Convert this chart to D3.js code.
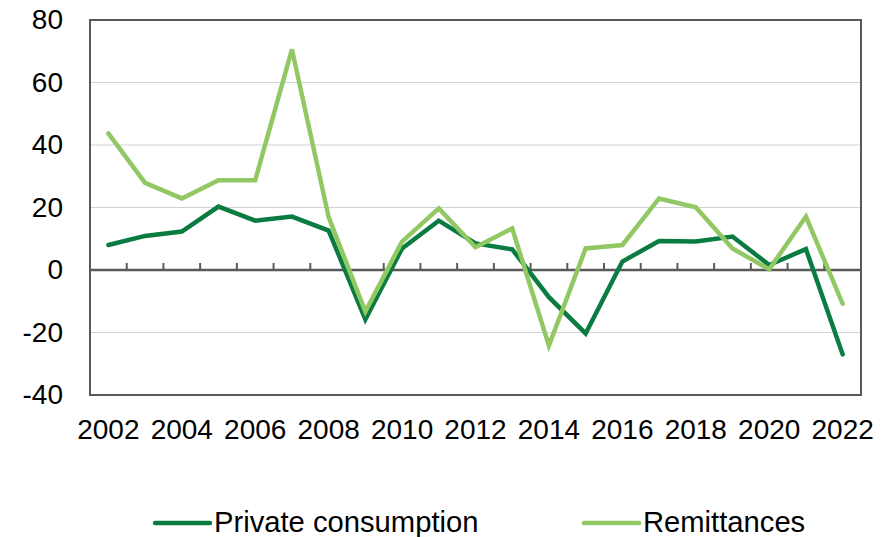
<!DOCTYPE html>
<html>
<head>
<meta charset="utf-8">
<script src="https://cdn.jsdelivr.net/npm/d3@7"></script>
<style>
  html, body { margin: 0; padding: 0; background: #fff; }
  svg { display: block; }
  text { font-family: "Liberation Sans", Arial, sans-serif; fill: #000; }
</style>
</head>
<body>
<svg id="chart" width="887" height="537"></svg>
<script>
const years = [2002,2003,2004,2005,2006,2007,2008,2009,2010,2011,2012,2013,2014,2015,2016,2017,2018,2019,2020,2021,2022];
const privateConsumption = [8.0,10.9,12.3,20.3,15.8,17.1,12.6,-15.8,6.9,15.8,8.5,6.6,-8.7,-20.3,2.7,9.3,9.1,10.7,1.6,6.7,-27.0];
const remittances = [43.7,27.9,22.9,28.7,28.7,70.6,16.9,-13.3,9.1,19.7,7.3,13.3,-24.2,6.9,8.0,22.9,20.1,6.9,0.2,17.1,-10.8];
const yTicks = [-40,-20,0,20,40,60,80];
const xLabels = [2002,2004,2006,2008,2010,2012,2014,2016,2018,2020,2022];
const seriesNames = ["Private consumption","Remittances"];
const seriesColors = ["#0a7c42","#92c864"];

const svg = d3.select("#chart");
const mLeft = 90, mRight = 861, mTop = 20, mBottom = 395;

const x = d3.scaleBand().domain(years).range([mLeft, mRight]).paddingInner(0).paddingOuter(0);
const y = d3.scaleLinear().domain([-40, 80]).range([mBottom, mTop]);
const cx = d => x(d) + x.bandwidth() / 2;

// gridlines
svg.append("g").selectAll("line")
  .data(yTicks.filter(v => v !== 0 && v !== 80 && v !== -40))
  .join("line")
  .attr("x1", mLeft).attr("x2", mRight)
  .attr("y1", d => y(d)).attr("y2", d => y(d))
  .attr("stroke", "#ccd3d1").attr("stroke-width", 1);

// y axis labels
const yAxis = d3.axisLeft(y).tickValues(yTicks).tickSize(0).tickPadding(27).tickFormat(d => String(d));
const gy = svg.append("g").attr("transform", `translate(${mLeft},0)`).call(yAxis);
gy.select(".domain").remove();
gy.selectAll("text").style("font-size", "28px").attr("fill", "#000")
  .style("font-family", "'Liberation Sans', Arial, sans-serif");

// zero axis with ticks between categories
const boundaries = years.slice(1).map(d => x(d)).concat([mRight]);
svg.append("g").selectAll("line")
  .data(boundaries)
  .join("line")
  .attr("x1", d => d).attr("x2", d => d)
  .attr("y1", y(0)).attr("y2", y(0) - 7)
  .attr("stroke", "#595959").attr("stroke-width", 2);
svg.append("line")
  .attr("x1", mLeft).attr("x2", mRight)
  .attr("y1", y(0)).attr("y2", y(0))
  .attr("stroke", "#595959").attr("stroke-width", 2.5);

// x labels at bottom
const xAxis = d3.axisBottom(x).tickValues(xLabels).tickSize(0).tickPadding(24);
const gx = svg.append("g").attr("transform", `translate(0,${mBottom})`).call(xAxis);
gx.select(".domain").remove();
gx.selectAll("text").style("font-size", "28px").attr("fill", "#000")
  .style("font-family", "'Liberation Sans', Arial, sans-serif");

// frame
svg.append("rect")
  .attr("x", mLeft).attr("y", mTop)
  .attr("width", mRight - mLeft).attr("height", mBottom - mTop)
  .attr("fill", "none").attr("stroke", "#595959").attr("stroke-width", 2);

// lines
const line = d3.line().x((d, i) => cx(years[i])).y(d => y(d));
[privateConsumption, remittances].forEach((vals, i) => {
  svg.append("path")
    .datum(vals)
    .attr("d", line)
    .attr("fill", "none")
    .attr("stroke", seriesColors[i])
    .attr("stroke-width", 4.5)
    .attr("stroke-linejoin", "miter")
    .attr("stroke-linecap", "round");
});

// legend
const legendX = [155, 584];
const legend = svg.append("g");
seriesNames.forEach((name, i) => {
  legend.append("line")
    .attr("x1", legendX[i]).attr("x2", legendX[i] + 55)
    .attr("y1", 523).attr("y2", 523)
    .attr("stroke", seriesColors[i]).attr("stroke-width", 4.5)
    .attr("stroke-linecap", "round");
  legend.append("text")
    .attr("x", legendX[i] + 59).attr("y", 532)
    .style("font-size", "29.2px")
    .text(name);
});
</script>
</body>
</html>
